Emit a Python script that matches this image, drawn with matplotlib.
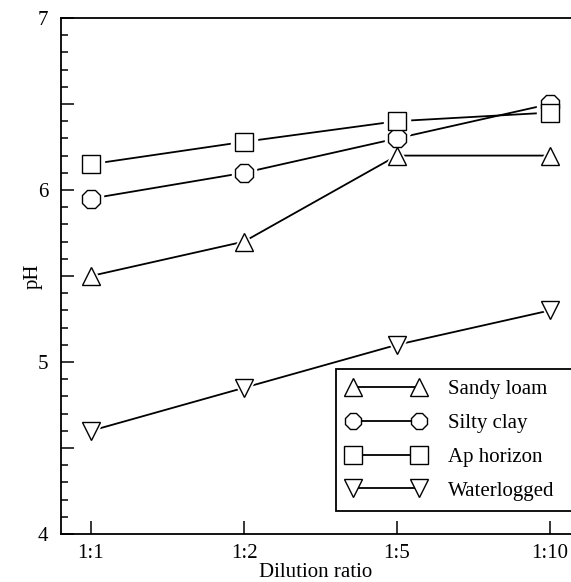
import matplotlib
matplotlib.use('Agg')
from matplotlib import pyplot as plt
from matplotlib.lines import Line2D
from matplotlib.ticker import MultipleLocator, FuncFormatter
import numpy as np

# Dilution ratios on the x axis
ratios = ['1:1', '1:2', '1:5', '1:10']

# pH readings per soil
series_names = ['Sandy loam', 'Silty clay', 'Ap horizon', 'Waterlogged']
sandy_loam = [5.50, 5.70, 6.20, 6.20]
silty_clay = [5.95, 6.10, 6.30, 6.50]
ap_horizon = [6.15, 6.28, 6.40, 6.45]
waterlogged = [4.60, 4.85, 5.10, 5.30]

plt.rcParams['font.family'] = ['Liberation Serif', 'DejaVu Serif']

fig = plt.figure(figsize=(5.71, 5.82), dpi=100)
ax = fig.add_axes([0.1068, 0.0825, 0.8932, 0.8866])

x = np.arange(len(ratios))
markers = ['^', '8', 's', 'v']
ms = 13.5

handles = []
for vals, mk, name in zip([sandy_loam, silty_clay, ap_horizon, waterlogged], markers, series_names):
    #Line first, then a white blob to leave a gap, then the open marker
    ax.plot(x, vals, color='black', lw=1.3, zorder=1)
    ax.plot(x, vals, ls='none', marker=mk, ms=ms + 5, mfc='white', mec='white', zorder=2)
    ax.plot(x, vals, ls='none', marker=mk, ms=ms, mfc='white', mec='black', mew=1.0, zorder=3)
    handles.append(Line2D([], [], color='black', lw=1.3, marker=mk, ms=ms - 1,
                          mfc='white', mec='black', mew=1.0))

ax.set_xlim(-0.196, 3.137)
ax.set_ylim(4, 7)

ax.set_xticks(x)
ax.set_xticklabels(ratios)

#Long ticks every 0.5 but only label the whole numbers
ax.yaxis.set_major_locator(MultipleLocator(0.5))
ax.yaxis.set_major_formatter(FuncFormatter(lambda v, p: '%d' % v if abs(v - round(v)) < 1e-6 else ''))
ax.yaxis.set_minor_locator(MultipleLocator(0.1))

ax.tick_params(axis='both', which='major', direction='in', length=9.5, width=1.1, labelsize=15)
ax.tick_params(axis='y', which='major', pad=9)
ax.tick_params(axis='x', which='major', pad=7)
ax.tick_params(axis='y', which='minor', direction='in', length=5, width=1.1)

ax.spines['right'].set_visible(False)
for s in ['left', 'bottom', 'top']:
    ax.spines[s].set_linewidth(1.3)

ax.set_ylabel('pH', fontsize=15)
ax.yaxis.set_label_coords(-0.035, 0.5)
ax.set_xlabel('Dilution ratio', fontsize=15, labelpad=0)

leg = ax.legend(handles, series_names, loc='lower left', bbox_to_anchor=(0.539, 0.0446, 0.5, 0.27),
                mode='expand', borderaxespad=0, numpoints=2, handlelength=3.8, fontsize=15,
                fancybox=False, framealpha=1, edgecolor='black', labelspacing=0.68,
                handletextpad=1.1, borderpad=0.5)
leg.get_frame().set_linewidth(1.3)

fig.savefig('out.png', dpi=100)
